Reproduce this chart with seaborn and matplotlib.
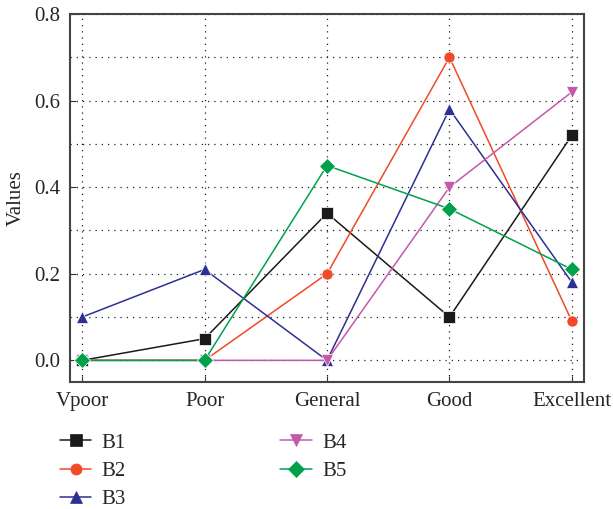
import matplotlib
matplotlib.use("Agg")
import matplotlib.pyplot as plt
import numpy as np
import pandas as pd
import seaborn as sns
from matplotlib.ticker import MultipleLocator

categories = ["Vpoor", "Poor", "General", "Good", "Excellent"]
b1 = [0.00, 0.05, 0.34, 0.10, 0.52]
b2 = [0.00, 0.00, 0.20, 0.70, 0.09]
b3 = [0.10, 0.21, 0.00, 0.58, 0.18]
b4 = [0.00, 0.00, 0.00, 0.40, 0.62]
b5 = [0.00, 0.00, 0.45, 0.35, 0.21]
series_names = ["B1", "B2", "B3", "B4", "B5"]
y_ticks = [0.0, 0.2, 0.4, 0.6, 0.8]

colors = ["#1a1a1a", "#f04a28", "#2e2f92", "#c458aa", "#00a14b"]
markers = ["s", "o", "^", "v", "D"]

frames = []
for name, vals in zip(series_names, [b1, b2, b3, b4, b5]):
    frames.append(pd.DataFrame({"x": np.arange(len(categories)), "value": vals, "series": name}))
df = pd.concat(frames, ignore_index=True)

sns.set_style("ticks")
plt.rcParams["font.family"] = ["Liberation Serif", "DejaVu Serif"]

fig = plt.figure(figsize=(6.13, 5.09), dpi=100)
ax = fig.add_axes([0.114, 0.2495, 0.839, 0.723])

sns.lineplot(data=df, x="x", y="value", hue="series", style="series",
             palette=dict(zip(series_names, colors)),
             markers=dict(zip(series_names, markers)), dashes=False,
             markersize=8, linewidth=1.1, markeredgewidth=0.5,
             ax=ax, legend=False)

ax.set_xlim(-0.1, 4.1)
ax.set_ylim(-0.05, 0.8)
ax.set_xticks(range(len(categories)))
ax.set_xticklabels(categories)
ax.set_yticks(y_ticks)
ax.set_yticklabels([f"{v:.1f}" for v in y_ticks])
ax.yaxis.set_minor_locator(MultipleLocator(0.1))
ax.set_xlabel("")
ax.set_ylabel("Values", fontsize=15, labelpad=6)
ax.tick_params(axis="both", which="major", labelsize=15, direction="in", length=4,
               color="#333333", pad=7)
ax.tick_params(axis="y", which="minor", length=0)

grid_style = dict(color="#222222", linestyle=(0, (1, 4)), linewidth=0.9)
ax.grid(True, which="major", axis="both", **grid_style)
ax.grid(True, which="minor", axis="y", **grid_style)
ax.set_axisbelow(True)
for sp in ax.spines.values():
    sp.set_visible(True)
    sp.set_color("#444444")
    sp.set_linewidth(1.5)

handles = [plt.Line2D([], [], color=c, marker=m, markersize=8, linewidth=1.1,
                      markeredgewidth=0.5)
           for c, m in zip(colors, markers)]
fig.legend(handles, series_names, loc="upper left", bbox_to_anchor=(0.098, 0.149),
           ncol=2, frameon=False, fontsize=15, handlelength=1.5,
           columnspacing=7.4, labelspacing=0.42, handletextpad=0.5,
           borderpad=0, borderaxespad=0)

fig.savefig("out.png", dpi=100)
